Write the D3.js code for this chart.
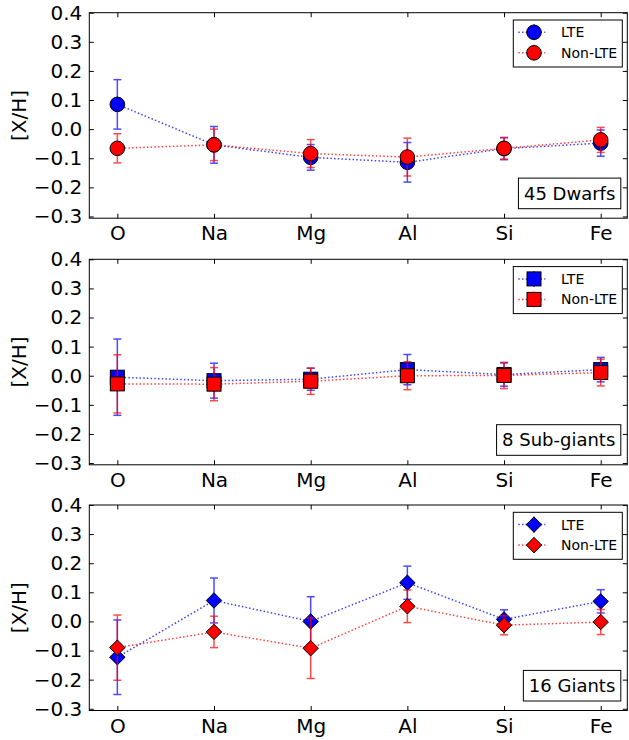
<!DOCTYPE html>
<html>
<head>
<meta charset="utf-8">
<script src="https://cdn.jsdelivr.net/npm/d3@7"></script>
<style>
  body { margin: 0; background: #fff; }
  svg { display: block; font-family: "DejaVu Sans", sans-serif; }
</style>
</head>
<body>
<svg width="629" height="740"></svg>
<script>
// Data
var elements = ["O", "Na", "Mg", "Al", "Si", "Fe"];
var yTicks = [-0.3, -0.2, -0.1, 0.0, 0.1, 0.2, 0.3, 0.4];
var seriesNames = ["LTE", "Non-LTE"];
var panelLabels = ["45 Dwarfs", "8 Sub-giants", "16 Giants"];
var panelMarkers = ["circle", "square", "diamond"];

// 45 dwarfs
var dwarfsLTE = [0.085, -0.054, -0.097, -0.114, -0.067, -0.048];
var dwarfsLTEErr = [0.085, 0.063, 0.044, 0.068, 0.038, 0.045];
var dwarfsNLTE = [-0.066, -0.054, -0.084, -0.096, -0.066, -0.037];
var dwarfsNLTEErr = [0.05, 0.054, 0.048, 0.065, 0.037, 0.043];

// 8 sub-giants
var subLTE = [-0.005, -0.017, -0.012, 0.021, 0.004, 0.021];
var subLTEErr = [0.131, 0.06, 0.038, 0.052, 0.04, 0.042];
var subNLTE = [-0.028, -0.029, -0.019, 0.0, 0.001, 0.011];
var subNLTEErr = [0.10, 0.057, 0.045, 0.048, 0.045, 0.046];

// 16 giants
var giantsLTE = [-0.123, 0.072, 0.0, 0.133, 0.007, 0.069];
var giantsLTEErr = [0.128, 0.077, 0.085, 0.057, 0.033, 0.04];
var giantsNLTE = [-0.09, -0.036, -0.092, 0.052, -0.013, -0.002];
var giantsNLTEErr = [0.112, 0.054, 0.104, 0.056, 0.033, 0.043];

var colors = ["#0000ff", "#ff0000"];

var panels = [
  { label: panelLabels[0], marker: panelMarkers[0],
    series: [[dwarfsLTE, dwarfsLTEErr], [dwarfsNLTE, dwarfsNLTEErr]] },
  { label: panelLabels[1], marker: panelMarkers[1],
    series: [[subLTE, subLTEErr], [subNLTE, subNLTEErr]] },
  { label: panelLabels[2], marker: panelMarkers[2],
    series: [[giantsLTE, giantsLTEErr], [giantsNLTE, giantsNLTEErr]] }
];

//###############################################
// layout
//###############################################
let svg = d3.select("svg");
let left = 89.3, right = 627.3, panelH = 205.5;
let tops = [12.7, 259.3, 505];

let x = d3.scaleLinear().domain([-0.29, 5.275]).range([left, right]);

function drawMarker(g, type, cx, cy, fill) {
  if (type == "circle") {
    g.append("circle").attr("cx", cx).attr("cy", cy).attr("r", 7.3)
      .attr("fill", fill).attr("stroke", "#000").attr("stroke-width", 1);
  } else if (type == "square") {
    g.append("rect").attr("x", cx - 7).attr("y", cy - 7)
      .attr("width", 14).attr("height", 14)
      .attr("fill", fill).attr("stroke", "#000").attr("stroke-width", 1);
  } else {
    let s = 7.7;
    g.append("path")
      .attr("d", `M${cx},${cy - s}L${cx + s},${cy}L${cx},${cy + s}L${cx - s},${cy}Z`)
      .attr("fill", fill).attr("stroke", "#000").attr("stroke-width", 1);
  }
}

panels.forEach(function(p, pi) {
  let top = tops[pi], bottom = top + panelH;
  let y = d3.scaleLinear().domain([-0.306, 0.4]).range([bottom, top]);
  let g = svg.append("g");

  // ticks (inward, all sides)
  let tickLen = 4.5;
  let axB = d3.axisBottom(x).tickValues(d3.range(elements.length))
    .tickFormat(i => elements[i]).tickSizeInner(-tickLen).tickSizeOuter(0).tickPadding(8);
  let axT = d3.axisTop(x).tickValues(d3.range(elements.length))
    .tickFormat("").tickSizeInner(-tickLen).tickSizeOuter(0);
  let axL = d3.axisLeft(y).tickValues(yTicks)
    .tickFormat(d3.format(".1f")).tickSizeInner(-tickLen).tickSizeOuter(0).tickPadding(7);
  let axR = d3.axisRight(y).tickValues(yTicks)
    .tickFormat("").tickSizeInner(-tickLen).tickSizeOuter(0);

  [[axB, `translate(0,${bottom})`], [axT, `translate(0,${top})`],
   [axL, `translate(${left},0)`], [axR, `translate(${right},0)`]].forEach(function(a) {
    let ag = g.append("g").attr("transform", a[1]).call(a[0]);
    ag.select(".domain").remove();
    ag.selectAll("line").attr("stroke", "#000").attr("stroke-width", 1);
    ag.selectAll("text").attr("font-size", 20).attr("fill", "#000")
      .attr("font-family", "DejaVu Sans");
  });
  g.selectAll("text").filter(function() { return this.textContent.charAt(0) == "-"; })
    .text(function() { return "\u2212" + this.textContent.slice(1); });

  // y label
  g.append("text")
    .attr("transform", `translate(18.5,${(top + bottom) / 2}) rotate(-90)`)
    .attr("text-anchor", "middle").attr("dy", "0.35em")
    .attr("font-size", 20).text("[X/H]");

  // data
  let line = d3.line().x((d, i) => x(i)).y(d => y(d));
  p.series.forEach(function(s, si) {
    let vals = s[0], errs = s[1], c = colors[si];
    let sg = g.append("g");
    vals.forEach(function(v, i) {
      let bg = sg.append("g").attr("stroke", c).attr("stroke-width", 1.5).attr("opacity", 0.7);
      bg.append("line").attr("x1", x(i)).attr("x2", x(i))
        .attr("y1", y(v - errs[i])).attr("y2", y(v + errs[i]));
      [v - errs[i], v + errs[i]].forEach(function(e) {
        bg.append("line").attr("x1", x(i) - 4).attr("x2", x(i) + 4)
          .attr("y1", y(e)).attr("y2", y(e));
      });
    });
    sg.append("path").datum(vals).attr("d", line)
      .attr("fill", "none").attr("stroke", c).attr("stroke-width", 1.5)
      .attr("stroke-dasharray", "1.5,2.2").attr("opacity", 0.75);
    vals.forEach(function(v, i) { drawMarker(sg, p.marker, x(i), y(v), c); });
  });

  // frame
  g.append("rect").attr("x", left).attr("y", top)
    .attr("width", right - left).attr("height", panelH)
    .attr("fill", "none").attr("stroke", "#000").attr("stroke-width", 1);

  // legend
  let lg = g.append("g").attr("transform", `translate(${right - 5 - 109},${top + 7.3})`);
  lg.append("rect").attr("width", 109).attr("height", 47)
    .attr("fill", "#fff").attr("stroke", "#000").attr("stroke-width", 1);
  seriesNames.forEach(function(name, si) {
    let cy = 12.3 + si * 20.5;
    lg.append("line").attr("x1", 5).attr("x2", 32).attr("y1", cy).attr("y2", cy)
      .attr("stroke", colors[si]).attr("stroke-width", 1.5)
      .attr("stroke-dasharray", "1.5,2.2").attr("opacity", 0.75);
    lg.append("line").attr("x1", 20.7).attr("x2", 20.7).attr("y1", cy - 8).attr("y2", cy + 8)
      .attr("stroke", colors[si]).attr("stroke-width", 1.5).attr("opacity", 0.7);
    drawMarker(lg, p.marker, 20.7, cy, colors[si]);
    lg.append("text").attr("x", 47.7).attr("y", cy).attr("dy", "0.36em")
      .attr("font-size", 14).text(name);
  });

  // sample label
  let tg = g.append("g");
  let t = tg.append("text").attr("font-size", 18).attr("text-anchor", "end")
    .attr("x", right - 6.5 - 5.5).attr("y", bottom - 9.5 - 15.3).attr("dy", "0.36em")
    .text(p.label);
  let w = t.node().getComputedTextLength() + 11;
  tg.insert("rect", "text").attr("x", right - 6.5 - w).attr("y", bottom - 9.5 - 30.6)
    .attr("width", w).attr("height", 30.6)
    .attr("fill", "#fff").attr("stroke", "#000").attr("stroke-width", 1);
});
</script>
</body>
</html>
